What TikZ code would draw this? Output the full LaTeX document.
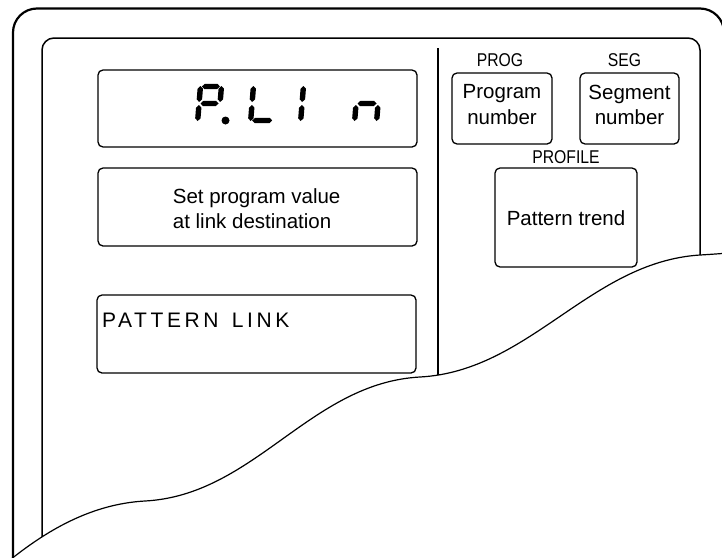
\documentclass[tikz,border=0pt]{standalone}
\usepackage{fontspec}
\setmainfont{Liberation Sans}
\newfontfamily\narrowfont[FakeStretch=0.85]{Liberation Sans}
\newfontfamily\spacedfont[LetterSpace=17]{Liberation Sans}
\usetikzlibrary{positioning}

% lcd segments: horizontal from x=#1 to x=#2 at y=#3
\newcommand{\segh}[3]{\fill ({#1},{#3}) -- ({#1+2.7},{#3-2.7}) -- ({#2-2.7},{#3-2.7}) -- ({#2},{#3}) -- ({#2-2.7},{#3+2.7}) -- ({#1+2.7},{#3+2.7}) -- cycle;}
% vertical at x=#1 from y=#2 (top) to y=#3 (bottom)
\newcommand{\segv}[3]{\fill ({#1},{#2}) -- ({#1+2.7},{#2+2.7}) -- ({#1+2.7},{#3-2.7}) -- ({#1},{#3}) -- ({#1-2.7},{#3-2.7}) -- ({#1-2.7},{#2+2.7}) -- cycle;}

\begin{document}
\begin{tikzpicture}[x=1pt, y=-1pt,
  box/.style={draw, rounded corners=5pt, line width=1.3pt, inner sep=0pt},
  txt/.style={inner sep=0pt, font=\fontsize{20.5}{25.5}\selectfont},
  lbl/.style={inner sep=0pt, font=\narrowfont\fontsize{18.5}{20}\selectfont}]
  \useasboundingbox (0,0) rectangle (722,557);

  % frames
  \draw[line width=2.2pt, rounded corners=24pt] (13,570) -- (13,8.5) -- (724,8.5) -- (724,320);
  \draw[line width=1.5pt, rounded corners=12pt] (42,570) -- (42,38) -- (700,38) -- (700,320);
  \draw[line width=2pt] (438,48) -- (438,400);

  % left column
  \node[box, minimum width=319, minimum height=77] (disp) at (257.5,108.5) {};
  \node[box, minimum width=319, minimum height=78] (msg) at (257.5,207) {};
  \node[box, minimum width=319, minimum height=78] (guide) at (256.5,334) {};
  \node[txt, align=left, anchor=west] (msgtxt) at (172.7,208.5) {Set program value\\at link destination};
  \node[txt, font=\spacedfont\fontsize{21}{25}\selectfont, anchor=base west] (guidetxt) at (102,327.7) {PATTERN\hspace{4pt} LINK};

  % P.LIn on the display
  \begin{scope}[shift={(195,123)}, xslant=0.08]
    \segh{4}{22}{-36.5} \segv{2.5}{-37}{-21} \segv{23.5}{-37}{-21} \segh{4}{22}{-19.5} \segv{2.5}{-18}{-2}
  \end{scope}
  \fill (225.5,120.5) circle (4);
  \begin{scope}[shift={(248,123)}, xslant=0.08]
    \segv{2.5}{-37}{-21} \segv{2.5}{-18}{-2} \segh{4}{24}{-2.5}
  \end{scope}
  \begin{scope}[shift={(298,123)}, xslant=0.08]
    \segv{2.5}{-37}{-21} \segv{2.5}{-18}{-2}
  \end{scope}
  \begin{scope}[shift={(352,123)}, xslant=0.08]
    \segv{2.5}{-18}{-2} \segh{4}{23}{-19.5} \segv{24.5}{-18}{-2}
  \end{scope}

  % right column
  \node[box, minimum width=100, minimum height=71] (prog) at (502,108.5) {};
  \node[box, minimum width=99, minimum height=71] (seg) at (629.5,108.5) {};
  \node[box, minimum width=142, minimum height=99] (trend) at (566,217.5) {};
  \node[lbl, above=5pt of prog, xshift=-2pt] (proglbl) {PROG};
  \node[lbl, above=5pt of seg, xshift=-5pt] (seglbl) {SEG};
  \node[lbl, above=3.3pt of trend] (trendlbl) {PROFILE};
  \node[txt, align=center] (progtxt) at (502,104.7) {Program\\number};
  \node[txt, align=center] (segtxt) at (629.5,104.7) {Segment\\number};
  \node[txt, anchor=base] (trendtxt) at (566,225) {Pattern trend};

  % torn edge
  \fill[white] (10,560) .. controls (45,532) and (90,504) .. (145,501)
    .. controls (255,495) and (310,383) .. (420,377)
    .. controls (530,371) and (590,262) .. (700,255)
    .. controls (710,254.4) and (716,254) .. (726,253.2) -- (730,580) -- (0,580) -- cycle;
  \draw[line width=1.2pt] (10,560) .. controls (45,532) and (90,504) .. (145,501)
    .. controls (255,495) and (310,383) .. (420,377)
    .. controls (530,371) and (590,262) .. (700,255)
    .. controls (710,254.4) and (716,254) .. (726,253.2);
\end{tikzpicture}
\end{document}
